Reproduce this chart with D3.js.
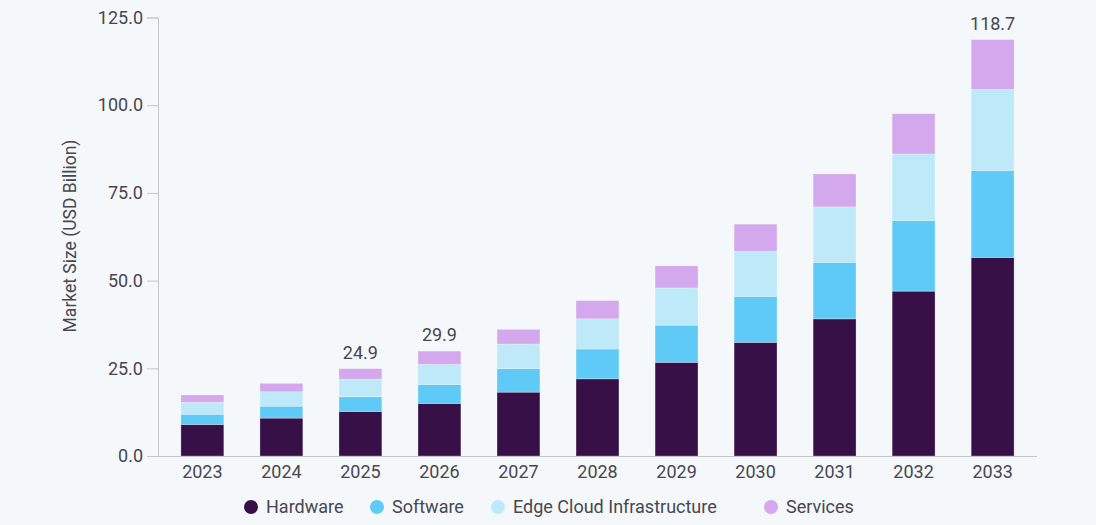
<!DOCTYPE html>
<html lang="en">
<head>
    <meta charset="UTF-8">
    <title>Market Size</title>
    <script src="https://cdn.jsdelivr.net/npm/d3@7"></script>
    <style>
        html, body { margin: 0; padding: 0; background: #f4f8fb; }
        svg text { font-family: Roboto, "Liberation Sans", sans-serif; fill: #48464f; }
    </style>
</head>
<body>
<script>
    // values (USD Billion)
    const years = ["2023", "2024", "2025", "2026", "2027", "2028", "2029", "2030", "2031", "2032", "2033"];
    const hardware = [9.0, 10.8, 12.7, 15.0, 18.2, 22.0, 26.7, 32.4, 39.1, 47.0, 56.6];
    const software = [2.9, 3.4, 4.2, 5.4, 6.7, 8.5, 10.6, 13.1, 16.1, 20.1, 24.8];
    const edgeCloud = [3.4, 4.1, 5.0, 5.7, 7.0, 8.6, 10.6, 12.8, 15.8, 19.0, 23.1];
    const services = [2.1, 2.4, 3.0, 3.8, 4.2, 5.2, 6.3, 7.8, 9.4, 11.5, 14.2];
    const seriesNames = ["Hardware", "Software", "Edge Cloud Infrastructure", "Services"];
    const labelledYears = ["2025", "2026", "2033"];
    const yTicks = [0, 25, 50, 75, 100, 125];

    const colors = ["#381048", "#5ecaf5", "#bde9f9", "#d3a8ec"];

    const width = 1096;
    const height = 525;

    const rows = years.map((y, i) => ({
        year: y,
        Hardware: hardware[i],
        Software: software[i],
        "Edge Cloud Infrastructure": edgeCloud[i],
        Services: services[i]
    }));

    const stacked = d3.stack().keys(seriesNames)(rows);

    const svg = d3.select("body")
        .append("svg")
        .attr("width", width)
        .attr("height", height);

    const x = d3.scaleBand()
        .domain(years)
        .range([158, 1037])
        .paddingInner(0.457)
        .paddingOuter(0.29);

    const y = d3.scaleLinear()
        .domain([0, 125])
        .range([456, 17.5]);

    const color = d3.scaleOrdinal(seriesNames, colors);

    // bars
    svg.append("g")
        .selectAll("g")
        .data(stacked)
        .join("g")
        .attr("fill", d => color(d.key))
        .selectAll("rect")
        .data(d => d)
        .join("rect")
        .attr("x", d => x(d.data.year))
        .attr("y", d => y(d[1]))
        .attr("width", x.bandwidth())
        .attr("height", d => y(d[0]) - y(d[1]))
        .attr("stroke", "rgba(255,255,255,0.35)")
        .attr("stroke-width", 0.8);

    // total labels
    const totals = rows.map(r => ({ year: r.year, total: d3.sum(seriesNames, k => r[k]) }));
    svg.append("g")
        .selectAll("text")
        .data(totals.filter(d => labelledYears.includes(d.year)))
        .join("text")
        .attr("x", d => x(d.year) + x.bandwidth() / 2)
        .attr("y", d => y(d.total) - 10)
        .attr("text-anchor", "middle")
        .attr("font-size", 18)
        .text(d => d.total.toFixed(1));

    // y axis
    const yAxis = svg.append("g")
        .attr("transform", "translate(158,0)")
        .call(d3.axisLeft(y).tickValues(yTicks).tickFormat(d3.format(".1f")).tickSize(11).tickPadding(4));
    yAxis.select(".domain").attr("stroke", "#c4c6cb");
    yAxis.selectAll(".tick line").attr("stroke", "#c4c6cb");
    yAxis.selectAll(".tick text").attr("font-size", 18).style("font-family", "Roboto, sans-serif").attr("fill", "#48464f");

    // x axis
    const xAxis = svg.append("g")
        .attr("transform", "translate(0,456)")
        .call(d3.axisBottom(x).tickSize(0).tickPadding(9).tickSizeOuter(0));
    xAxis.select(".domain").attr("stroke", "#c4c6cb").attr("d", "M147,0.5H1037");
    xAxis.selectAll(".tick text").attr("font-size", 18).style("font-family", "Roboto, sans-serif").attr("fill", "#48464f");

    // y axis title
    svg.append("text")
        .attr("transform", "translate(76,236) rotate(-90)")
        .attr("text-anchor", "middle")
        .attr("font-size", 17.5)
        .text("Market Size (USD Billion)");

    // legend, item positions matched to the reference layout
    const legendX = [244, 370, 491, 764];
    const legend = svg.append("g").attr("transform", "translate(0,507)");
    seriesNames.forEach((name, i) => {
        const item = legend.append("g").attr("transform", `translate(${legendX[i]},0)`);
        item.append("circle")
            .attr("cx", 7)
            .attr("cy", 0)
            .attr("r", 7)
            .attr("fill", color(name));
        item.append("text")
            .attr("x", 22)
            .attr("y", 0)
            .attr("dy", "0.35em")
            .attr("font-size", 18)
            .text(name);
    });
</script>
</body>
</html>
